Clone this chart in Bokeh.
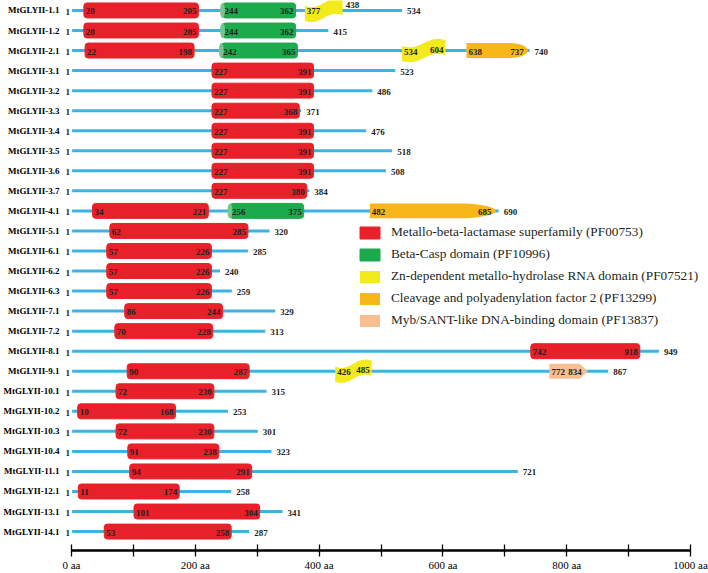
import numpy as np
from bokeh.plotting import figure
from bokeh.models import (Range1d, LinearAxis, FixedTicker, PrintfTickFormatter,
                          Legend, LegendItem, ColumnDataSource)
from bokeh.core.properties import value
from bokeh.embed import file_html
from bokeh.resources import INLINE

# ---------------- data ----------------
proteins = ["MtGLYII-1.1", "MtGLYII-1.2", "MtGLYII-2.1", "MtGLYII-3.1", "MtGLYII-3.2",
            "MtGLYII-3.3", "MtGLYII-3.4", "MtGLYII-3.5", "MtGLYII-3.6", "MtGLYII-3.7",
            "MtGLYII-4.1", "MtGLYII-5.1", "MtGLYII-6.1", "MtGLYII-6.2", "MtGLYII-6.3",
            "MtGLYII-7.1", "MtGLYII-7.2", "MtGLYII-8.1", "MtGLYII-9.1", "MtGLYII-10.1",
            "MtGLYII-10.2", "MtGLYII-10.3", "MtGLYII-10.4", "MtGLYII-11.1", "MtGLYII-12.1",
            "MtGLYII-13.1", "MtGLYII-14.1"]
lengths = [534, 415, 740, 523, 486, 371, 476, 518, 508, 384, 690, 320, 285, 240, 259,
           329, 313, 949, 867, 315, 253, 301, 323, 721, 258, 341, 287]

# Metallo-beta-lactamase superfamily (PF00753)
mbl_protein = proteins
mbl_start = [20, 20, 22, 227, 227, 227, 227, 227, 227, 227, 34, 62, 57, 57, 57, 86, 70,
             742, 90, 72, 10, 72, 91, 94, 11, 101, 53]
mbl_end = [205, 205, 198, 391, 391, 368, 391, 391, 391, 380, 221, 285, 226, 226, 226,
           244, 228, 918, 287, 230, 168, 230, 238, 291, 174, 304, 258]

# Beta-Casp domain (PF10996)
casp_protein = ["MtGLYII-1.1", "MtGLYII-1.2", "MtGLYII-2.1", "MtGLYII-4.1"]
casp_start = [244, 244, 242, 256]
casp_end = [362, 362, 365, 375]

# Zn-dependent metallo-hydrolase RNA domain (PF07521)
zn_protein = ["MtGLYII-1.1", "MtGLYII-2.1", "MtGLYII-9.1"]
zn_start = [377, 534, 426]
zn_end = [438, 604, 485]

# Cleavage and polyadenylation factor 2 (PF13299)
cpsf_protein = ["MtGLYII-2.1", "MtGLYII-4.1"]
cpsf_start = [638, 482]
cpsf_end = [737, 685]

# Myb/SANT-like DNA-binding domain (PF13837)
myb_protein = ["MtGLYII-9.1"]
myb_start = [772]
myb_end = [834]

legend_labels = ["Metallo-beta-lactamase superfamily (PF00753)",
                 "Beta-Casp domain (PF10996)",
                 "Zn-dependent metallo-hydrolase RNA domain (PF07521)",
                 "Cleavage and polyadenylation factor 2 (PF13299)",
                 "Myb/SANT-like DNA-binding domain (PF13837)"]

axis_ticks = [0, 200, 400, 600, 800, 1000]
axis_minor_ticks = [100, 300, 500, 700, 900]

# ---------------- styles / layout ----------------
W, H = 708, 573
BL, BB = 62, 21
FRAME_W, FRAME_H = W - BL, H - BB
PX_ZERO, PX_1000 = 8, 628          # frame pixels of 0 aa and 1000 aa
SCALE = (PX_1000 - PX_ZERO) / 1000.0
X0 = -PX_ZERO / SCALE
X1 = X0 + FRAME_W / SCALE
ROW_TOP_PX, ROW_BOT_PX = 10, 533
N = len(proteins)
ROW_PX = (ROW_BOT_PX - ROW_TOP_PX) / (N - 1)
Y_TOP = -ROW_TOP_PX / ROW_PX
Y_BOTTOM = (N - 1) + (FRAME_H - ROW_BOT_PX) / ROW_PX
BOX_H = 15 / ROW_PX

RED, GREEN, GREEN_L = "#E8202A", "#1BAA4C", "#74C690"
YELLOW, ORANGE, PEACH = "#F3EA1C", "#F8B719", "#F6BE91"
LINE_BLUE = "#3DB3E4"
TXT = "#231F20"
FONT = "Liberation Serif"
SERIF = value(FONT)
NUM_SIZE = "9px"

row = {name: i for i, name in enumerate(proteins)}

p = figure(width=W, height=H, output_backend="svg", toolbar_location=None,
           x_range=Range1d(X0, X1), y_range=Range1d(Y_BOTTOM, Y_TOP),
           x_axis_type=None, y_axis_type=None,
           min_border_left=BL, min_border_right=0, min_border_top=0,
           min_border_bottom=BB)
p.outline_line_color = None
p.background_fill_color = "white"

# protein backbones
bb = ColumnDataSource(dict(y=list(range(N)), x0=[1] * N, x1=lengths,
                           end_txt=[str(v) for v in lengths], one=["1"] * N))
p.segment(x0="x0", x1="x1", y0="y", y1="y", source=bb, line_color=LINE_BLUE,
          line_width=3)
p.text(x=0, y="y", text="one", source=bb, text_font=SERIF, text_font_style="bold",
       text_font_size="9px", text_align="right", text_baseline="middle",
       x_offset=-1.5, y_offset=1.5, text_color=TXT)
p.text(x="x1", y="y", text="end_txt", source=bb, text_font=SERIF,
       text_font_style="bold", text_font_size=NUM_SIZE, text_align="left",
       text_baseline="middle", x_offset=5, y_offset=1, text_color=TXT)


def num_labels(prot, s, e, end_off=-2, end_dy=0, skip_end=()):
    ys = [row[q] for q in prot]
    src_s = ColumnDataSource(dict(x=s, y=ys, t=[str(v) for v in s]))
    p.text(x="x", y="y", text="t", source=src_s, text_font=SERIF,
           text_font_style="bold", text_font_size=NUM_SIZE, text_align="left",
           text_baseline="middle", x_offset=2, y_offset=1, text_color=TXT)
    keep = [i for i, q in enumerate(prot) if q not in skip_end]
    src_e = ColumnDataSource(dict(x=[e[i] for i in keep], y=[ys[i] for i in keep],
                                  t=[str(e[i]) for i in keep]))
    p.text(x="x", y="y", text="t", source=src_e, text_font=SERIF,
           text_font_style="bold", text_font_size=NUM_SIZE, text_align="right",
           text_baseline="middle", x_offset=end_off, y_offset=1 + end_dy,
           text_color=TXT)


# red: metallo-beta-lactamase
r_mbl = p.hbar(y=[row[q] for q in mbl_protein], left=mbl_start, right=mbl_end,
               height=BOX_H, fill_color=RED, line_color=RED, border_radius=3)
num_labels(mbl_protein, mbl_start, mbl_end)

# green: beta-casp
r_casp = p.hbar(y=[row[q] for q in casp_protein], left=casp_start, right=casp_end,
                height=BOX_H, fill_color=GREEN, line_color=GREEN, border_radius=3)
p.ellipse(x=casp_start, y=[row[q] for q in casp_protein], width=5, height=15,
          width_units="screen", height_units="screen", fill_color=GREEN_L,
          line_color=None)
num_labels(casp_protein, casp_start, casp_end)

# yellow: Zn-dependent (wavy flag)
zx, zy = [], []
amp = 3.0 / ROW_PX
for q, s, e in zip(zn_protein, zn_start, zn_end):
    t = np.linspace(0, 1, 25)
    xs = s + (e - s) * t
    off = amp * np.cos(np.pi * t) + 0.6 * amp * np.sin(2 * np.pi * t)
    top = row[q] - BOX_H / 2 + off
    bot = row[q] + BOX_H / 2 + off
    zx.append(np.concatenate([xs, xs[::-1]]).tolist())
    zy.append(np.concatenate([top, bot[::-1]]).tolist())
r_zn = p.patches(zx, zy, fill_color=YELLOW, line_color=None)
num_labels(zn_protein, zn_start, zn_end, end_dy=-2, skip_end=("MtGLYII-1.1",))
z11 = zn_protein.index("MtGLYII-1.1")
p.text(x=[zn_end[z11]], y=[row["MtGLYII-1.1"]], text=[str(zn_end[z11])],
       text_font=SERIF, text_font_style="bold", text_font_size=NUM_SIZE,
       text_align="left", text_baseline="middle", x_offset=3, y_offset=-5,
       text_color=TXT)

# orange: CPSF2 (bullet)
ox, oy = [], []
for q, s, e in zip(cpsf_protein, cpsf_start, cpsf_end):
    L = 0.3 * (e - s)
    xc = e - L
    th = np.linspace(np.pi / 2, -np.pi / 2, 30)
    ax = xc + L * np.cos(th)
    ay = row[q] - (BOX_H / 2) * np.sin(th)
    ox.append([s] + ax.tolist() + [s])
    oy.append([row[q] - BOX_H / 2] + ay.tolist() + [row[q] + BOX_H / 2])
r_cpsf = p.patches(ox, oy, fill_color=ORANGE, line_color=None)
num_labels(cpsf_protein, cpsf_start, cpsf_end, end_off=-4)

# peach: Myb/SANT (arrow)
mx, my = [], []
tip = 8 / SCALE
for q, s, e in zip(myb_protein, myb_start, myb_end):
    c = row[q]
    mx.append([s, e - tip, e, e - tip, s])
    my.append([c - BOX_H / 2, c - BOX_H / 2, c, c + BOX_H / 2, c + BOX_H / 2])
r_myb = p.patches(mx, my, fill_color=PEACH, line_color=None)
num_labels(myb_protein, myb_start, myb_end, end_off=-6)

# axes
yaxis = LinearAxis(ticker=FixedTicker(ticks=list(range(N)), minor_ticks=[]),
                   major_label_overrides={i: n for i, n in enumerate(proteins)})
yaxis.axis_line_color = None
yaxis.major_tick_line_color = None
yaxis.minor_tick_line_color = None
yaxis.major_tick_out = 0
yaxis.major_tick_in = 0
yaxis.major_label_standoff = 4
yaxis.major_label_text_font = FONT
yaxis.major_label_text_font_style = "bold"
yaxis.major_label_text_font_size = "9px"
yaxis.major_label_text_color = "black"
p.add_layout(yaxis, "left")

xaxis = LinearAxis(ticker=FixedTicker(ticks=axis_ticks, minor_ticks=axis_minor_ticks),
                   formatter=PrintfTickFormatter(format="%d aa"), bounds=(0, 1000))
xaxis.axis_line_width = 2.5
xaxis.axis_line_color = "black"
xaxis.major_tick_in = 6
xaxis.major_tick_out = 6
xaxis.minor_tick_in = 6
xaxis.minor_tick_out = 6
xaxis.major_tick_line_width = 1.3
xaxis.minor_tick_line_width = 1.3
xaxis.major_tick_line_color = "black"
xaxis.minor_tick_line_color = "black"
xaxis.major_label_standoff = 2
xaxis.major_label_text_font = FONT
xaxis.major_label_text_font_size = "11px"
xaxis.major_label_text_color = "black"
p.add_layout(xaxis, "below")

legend = Legend(items=[LegendItem(label=legend_labels[0], renderers=[r_mbl]),
                       LegendItem(label=legend_labels[1], renderers=[r_casp]),
                       LegendItem(label=legend_labels[2], renderers=[r_zn]),
                       LegendItem(label=legend_labels[3], renderers=[r_cpsf]),
                       LegendItem(label=legend_labels[4], renderers=[r_myb])],
                location=(294, 222), orientation="vertical")
legend.glyph_width = 25
legend.glyph_height = 15
legend.label_height = 15
legend.spacing = 6
legend.padding = 0
legend.margin = 0
legend.label_standoff = 9
legend.border_line_color = None
legend.background_fill_alpha = 0
legend.label_text_font = FONT
legend.label_text_font_size = "13.3px"
legend.label_text_color = TXT
p.add_layout(legend, "center")

open("out.html", "w").write(file_html(p, INLINE))
